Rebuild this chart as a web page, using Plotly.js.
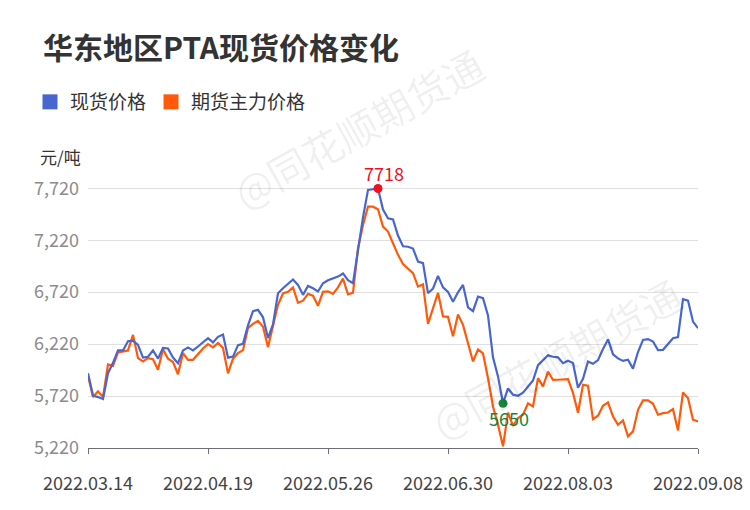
<!DOCTYPE html>
<html>
<head>
<meta charset="utf-8">
<script src="https://cdn.plot.ly/plotly-3.0.1.min.js"></script>
<style>
html,body{margin:0;padding:0;background:#fff;}
#chart{width:750px;height:510px;}
</style>
</head>
<body>
<div id="chart"></div>
<script>
const dates = [
'2022.03.14','2022.03.15','2022.03.16','2022.03.17','2022.03.18',
'2022.03.21','2022.03.22','2022.03.23','2022.03.24','2022.03.25',
'2022.03.28','2022.03.29','2022.03.30','2022.03.31','2022.04.01',
'2022.04.06','2022.04.07','2022.04.08',
'2022.04.11','2022.04.12','2022.04.13','2022.04.14','2022.04.15',
'2022.04.18','2022.04.19','2022.04.20','2022.04.21','2022.04.22',
'2022.04.25','2022.04.26','2022.04.27','2022.04.28','2022.04.29',
'2022.05.05','2022.05.06',
'2022.05.09','2022.05.10','2022.05.11','2022.05.12','2022.05.13',
'2022.05.16','2022.05.17','2022.05.18','2022.05.19','2022.05.20',
'2022.05.23','2022.05.24','2022.05.25','2022.05.26','2022.05.27',
'2022.05.30','2022.05.31','2022.06.01','2022.06.02',
'2022.06.06','2022.06.07','2022.06.08','2022.06.09','2022.06.10',
'2022.06.13','2022.06.14','2022.06.15','2022.06.16','2022.06.17',
'2022.06.20','2022.06.21','2022.06.22','2022.06.23','2022.06.24',
'2022.06.27','2022.06.28','2022.06.29','2022.06.30','2022.07.01',
'2022.07.04','2022.07.05','2022.07.06','2022.07.07','2022.07.08',
'2022.07.11','2022.07.12','2022.07.13','2022.07.14','2022.07.15',
'2022.07.18','2022.07.19','2022.07.20','2022.07.21','2022.07.22',
'2022.07.25','2022.07.26','2022.07.27','2022.07.28','2022.07.29',
'2022.08.01','2022.08.02','2022.08.03','2022.08.04','2022.08.05',
'2022.08.08','2022.08.09','2022.08.10','2022.08.11','2022.08.12',
'2022.08.15','2022.08.16','2022.08.17','2022.08.18','2022.08.19',
'2022.08.22','2022.08.23','2022.08.24','2022.08.25','2022.08.26',
'2022.08.29','2022.08.30','2022.08.31','2022.09.01','2022.09.02',
'2022.09.05','2022.09.06','2022.09.07','2022.09.08'
];

const spotPrice = [
5940,5725,5710,5691,5940,6040,6160,6159,6248,6254,
6213,6090,6098,6159,6080,6184,6178,6090,6037,6159,
6188,6159,6197,6238,6277,6236,6290,6312,6090,6100,
6210,6222,6400,6537,6550,6478,6278,6410,6710,6758,
6799,6842,6790,6694,6780,6758,6726,6806,6835,6854,
6870,6900,6835,6806,7143,7440,7704,7712,7718,7515,
7431,7420,7265,7162,7157,7140,7015,6999,6710,6755,
6877,6766,6723,6627,6718,6790,6574,6537,6678,6662,
6496,6093,5909,5650,5794,5733,5723,5752,5815,5870,
6018,6065,6112,6098,6092,6037,6060,6039,5800,5885,
6053,6030,6066,6173,6265,6122,6082,6058,6069,5984,
6144,6260,6268,6245,6162,6165,6226,6277,6287,6652,
6639,6437,6373
];

const futuresPrice = [
5915,5710,5765,5710,6024,6011,6140,6149,6159,6309,
6085,6053,6085,6075,5973,6170,6080,6048,5930,6133,
6069,6069,6127,6178,6220,6188,6230,6182,5938,6080,
6133,6162,6374,6414,6444,6386,6191,6398,6598,6707,
6723,6765,6617,6638,6703,6686,6589,6723,6728,6704,
6766,6851,6699,6714,7143,7367,7543,7543,7518,7351,
7303,7191,7079,6990,6946,6903,6774,6795,6415,6566,
6714,6486,6482,6296,6506,6405,6221,6053,6168,6130,
5892,5620,5444,5236,5560,5432,5508,5540,5650,5620,
5892,5812,5956,5876,5877,5883,5883,5750,5559,5828,
5819,5498,5530,5626,5659,5524,5444,5486,5332,5380,
5588,5678,5678,5646,5540,5556,5562,5594,5389,5755,
5700,5492,5476
];

const tickDates = ['2022.03.14','2022.04.19','2022.05.26','2022.06.30','2022.08.03','2022.09.08'];
const yTicks = [5220,5720,6220,6720,7220,7720];
const seriesNames = ['现货价格','期货主力价格'];
const titleText = '华东地区PTA现货价格变化';
const unitText = '元/吨';
const watermarkText = '@同花顺期货通';

const BLUE = '#4766CF';
const ORANGE = '#FF5A0A';
const RED = '#F0101E';
const GREEN = '#15873A';
const FONT = '"Noto Sans CJK SC", "Noto Sans", sans-serif';

const maxVal = Math.max(...spotPrice);
const minVal = Math.min(...spotPrice);
const iMax = spotPrice.indexOf(maxVal);
const iMin = spotPrice.indexOf(minVal);

const traces = [
  {x: dates, y: futuresPrice, type: 'scatter', mode: 'lines', name: seriesNames[1],
   line: {color: ORANGE, width: 2.2}, showlegend: false, hoverinfo: 'skip'},
  {x: dates, y: spotPrice, type: 'scatter', mode: 'lines', name: seriesNames[0],
   line: {color: BLUE, width: 2.2}, showlegend: false, hoverinfo: 'skip'},
  {x: [dates[iMax], dates[iMin]], y: [maxVal, minVal], type: 'scatter', mode: 'markers',
   marker: {color: [RED, GREEN], size: 9}, showlegend: false, hoverinfo: 'skip'},
  {x: [null], y: [null], type: 'scatter', mode: 'markers', name: seriesNames[0],
   marker: {color: BLUE, size: 15, symbol: 'square'}, showlegend: true},
  {x: [null], y: [null], type: 'scatter', mode: 'markers', name: seriesNames[1],
   marker: {color: ORANGE, size: 15, symbol: 'square'}, showlegend: true}
];

const layout = {
  width: 750, height: 510,
  paper_bgcolor: '#fff', plot_bgcolor: '#fff',
  margin: {l: 88, r: 52, t: 160, b: 62},
  font: {family: FONT, color: '#333'},
  title: {text: titleText, x: 43/750, xanchor: 'left', xref: 'container',
          y: 1 - 48/510, yanchor: 'middle', yref: 'container',
          font: {family: FONT, size: 30, weight: 'bold', color: '#333'}},
  showlegend: true,
  legend: {orientation: 'h', xref: 'container', yref: 'container',
           x: 30/750, xanchor: 'left', y: 1 - 102/510, yanchor: 'middle',
           font: {family: FONT, size: 19, color: '#333'},
           itemsizing: 'trace',
           traceorder: 'normal', bgcolor: 'rgba(0,0,0,0)'},
  xaxis: {type: 'category', range: [0, dates.length - 1],
          tickmode: 'array', tickvals: tickDates, ticktext: tickDates,
          showgrid: false, showline: true, linecolor: '#6E7079', linewidth: 1,
          ticks: 'outside', ticklen: 5, tickcolor: '#6E7079', tickwidth: 1,
          tickfont: {family: FONT, size: 18, color: '#444'},
          ticklabelstandoff: 14, zeroline: false, fixedrange: true},
  yaxis: {range: [5220, 7992], tickmode: 'array', tickvals: yTicks,
          tickformat: ',d', showgrid: true, gridcolor: '#E0E0E0', gridwidth: 1,
          showline: false, zeroline: false, ticks: '',
          tickfont: {family: FONT, size: 18, color: '#8C8C8C'},
          ticklabelstandoff: 8, fixedrange: true},
  annotations: [
    {text: unitText, xref: 'paper', yref: 'paper', x: (38-88)/610, y: (448.3-156)/288.3,
     xanchor: 'left', yanchor: 'middle', showarrow: false,
     font: {family: FONT, size: 17, color: '#333'}},
    {text: String(maxVal), x: dates[iMax], y: maxVal, xref: 'x', yref: 'y',
     showarrow: false, xshift: 6, yshift: 15,
     font: {family: FONT, size: 18, color: RED}},
    {text: String(minVal), x: dates[iMin], y: minVal, xref: 'x', yref: 'y',
     showarrow: false, xshift: 6, yshift: -15,
     font: {family: FONT, size: 18, color: GREEN}},
    {text: watermarkText, xref: 'paper', yref: 'paper', x: (358-88)/610, y: (448.3-128)/288.3,
     xanchor: 'center', yanchor: 'middle',
     showarrow: false, textangle: -29, font: {family: FONT, size: 40, color: 'rgba(0,0,0,0.065)'}},
    {text: watermarkText, xref: 'paper', yref: 'paper', x: (556-88)/610, y: (448.3-358)/288.3,
     xanchor: 'center', yanchor: 'middle',
     showarrow: false, textangle: -29, font: {family: FONT, size: 40, color: 'rgba(0,0,0,0.065)'}}
  ]
};

Plotly.newPlot('chart', traces, layout, {displayModeBar: false, staticPlot: true});
</script>
</body>
</html>
